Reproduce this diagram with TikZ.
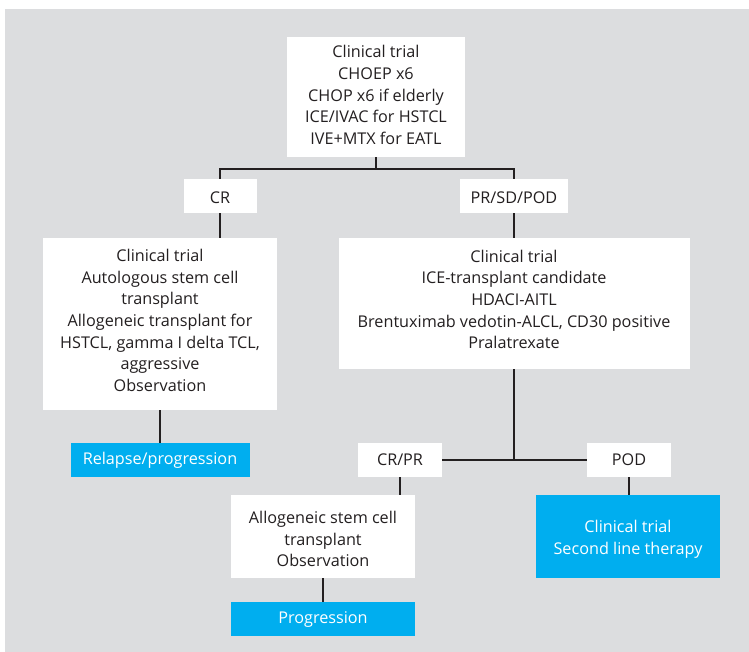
\documentclass[tikz,border=0pt]{standalone}
\usepackage{fontspec}
\setmainfont{Open Sans}
\definecolor{panelgrey}{HTML}{DCDDDF}
\definecolor{cyanbox}{HTML}{00AEEF}
\definecolor{inkdark}{HTML}{231F20}
\tikzset{
  x=1pt, y=-1pt,
  box/.style={rectangle, fill=white, inner sep=0pt},
  bluebox/.style={box, fill=cyanbox},
  txt/.style={align=center, inner sep=0pt, text=inkdark,
    font=\fontsize{16.2}{21.6}\selectfont},
  wtxt/.style={txt, text=white},
  link/.style={draw=inkdark, line width=1.9pt},
}
\begin{document}
\begin{tikzpicture}
  \useasboundingbox (0,0) rectangle (749,652);
  \fill[panelgrey] (5,9) rectangle (749,652);

  % first-line therapy
  \node[box, minimum width=178, minimum height=120] (first) at (376,97) {};
  \node[txt] (first-t) at ([yshift=2]first.center)
    {Clinical trial\\CHOEP x6\\CHOP x6 if elderly\\ICE/IVAC for HSTCL\\IVE+MTX for EATL};

  % responses
  \node[box, minimum width=73, minimum height=34] (cr) at (220,196) {};
  \node[txt] (cr-t) at ([yshift=-2]cr.center) {CR};
  \node[box, minimum width=108, minimum height=34] (prsd) at (514,196) {};
  \node[txt] (prsd-t) at ([yshift=-2]prsd.center) {PR/SD/POD};

  % consolidation / salvage
  \node[box, minimum width=234, minimum height=172] (consol) at (160,324) {};
  \node[txt] (consol-t) at ([yshift=3.5]consol.center)
    {Clinical trial\\Autologous stem cell\\transplant\\Allogeneic transplant for\\HSTCL, gamma I delta TCL,\\aggressive\\Observation};
  \node[box, minimum width=351, minimum height=131] (salvage) at (514,303.5) {};
  \node[txt] (salvage-t) at ([yshift=4]salvage.center)
    {Clinical trial\\ICE-transplant candidate\\HDACI-AITL\\Brentuximab vedotin-ALCL, CD30 positive\\Pralatrexate};

  \node[bluebox, minimum width=179, minimum height=34] (relapse) at (160,460) {};
  \node[wtxt] (relapse-t) at (relapse.center) {Relapse/progression};
  \node[box, minimum width=84, minimum height=34] (crpr) at (400,460) {};
  \node[txt] (crpr-t) at (crpr.center) {CR/PR};
  \node[box, minimum width=84, minimum height=34] (pod) at (629,460) {};
  \node[txt] (pod-t) at (pod.center) {POD};

  \node[box, minimum width=184, minimum height=83] (allo) at (323,536.5) {};
  \node[txt] (allo-t) at ([yshift=-2.5]allo.center)
    {Allogeneic stem cell\\transplant\\Observation};
  \node[bluebox, minimum width=184, minimum height=83] (second) at (628,536.5) {};
  \node[wtxt] (second-t) at ([yshift=-3]second.center)
    {Clinical trial\\Second line therapy};
  \node[bluebox, minimum width=184, minimum height=34] (prog) at (323,619) {};
  \node[wtxt] (prog-t) at (prog.center) {Progression};

  % connectors
  \coordinate (split) at (376,169);
  \draw[link] (first.south) -- (split);
  \draw[link] (cr.north) |- (split) -| (prsd.north);
  \draw[link] (cr.south) -- (cr.south |- consol.north);
  \draw[link] (prsd.south) -- (prsd.south |- salvage.north);
  \draw[link] (consol.south) -- (consol.south |- relapse.north);
  \draw[link] (salvage.south) -- (salvage.south |- crpr.east);
  \draw[link] (crpr.east) -- (pod.west);
  \draw[link] (crpr.south) -- (crpr.south |- allo.north);
  \draw[link] (pod.south) -- (pod.south |- second.north);
  \draw[link] (allo.south) -- (prog.north);
\end{tikzpicture}
\end{document}
